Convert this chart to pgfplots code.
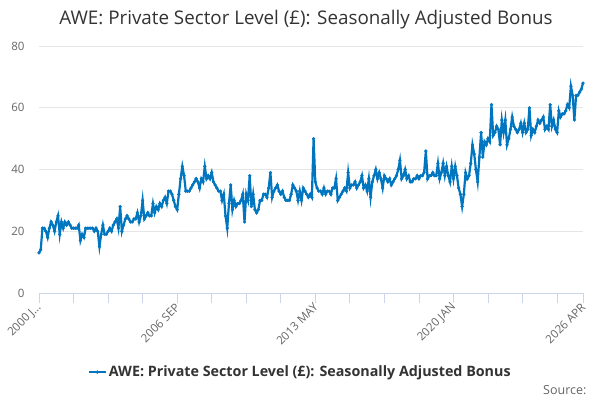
\documentclass[border=0pt]{standalone}
\usepackage{pgfplots}
\pgfplotsset{compat=1.18}
\usepackage{pgfplotstable}
\usepackage{fontspec}
\setmainfont{Open Sans}
\definecolor{series}{RGB}{0,118,192}
\definecolor{gridc}{RGB}{230,230,230}
\definecolor{axisc}{RGB}{204,214,235}
\definecolor{labc}{RGB}{102,102,102}
\definecolor{titc}{RGB}{51,51,51}
\pgfplotstableread{
m v
0 13
1 14
2 21
3 21
4 20
5 18
6 21
7 23
8 22
9 20
10 23
11 25
12 19
13 23
14 21
15 23
16 22
17 23
18 22
19 21
20 21
21 21
22 21
23 22
24 17
25 19
26 18
27 21
28 21
29 21
30 21
31 21
32 20
33 21
34 20
35 15
36 19
37 22
38 19
39 19
40 20
41 21
42 20
43 22
44 23
45 24
46 21
47 28
48 20
49 22
50 24
51 25
52 24
53 23
54 23
55 24
56 24
57 26
58 23
59 25
60 30
61 24
62 25
63 26
64 25
65 25
66 29
67 26
68 28
69 27
70 29
71 28
72 30
73 31
74 29
75 33
76 33
77 32
78 30
79 28
80 27
81 32
82 37
83 41
84 38
85 33
86 33
87 33
88 34
89 35
90 36
91 37
92 36
93 34
94 37
95 36
96 41
97 37
98 38
99 37
100 39
101 36
102 35
103 34
104 33
105 33
106 30
107 32
108 25
109 21
110 29
111 35
112 27
113 30
114 28
115 29
116 29
117 30
118 32
119 23
120 32
121 30
122 38
123 28
124 32
125 27
126 26
127 27
128 30
129 30
130 32
131 32
132 31
133 34
134 39
135 31
136 33
137 34
138 35
139 33
140 32
141 33
142 31
143 30
144 30
145 30
146 32
147 35
148 34
149 33
150 30
151 33
152 30
153 34
154 33
155 32
156 31
157 32
158 31
159 50
160 36
161 34
162 33
163 33
164 32
165 34
166 32
167 33
168 33
169 32
170 34
171 34
172 37
173 30
174 31
175 32
176 33
177 34
178 33
179 39
180 34
181 35
182 35
183 36
184 34
185 35
186 36
187 38
188 34
189 35
190 33
191 37
192 31
193 36
194 38
195 40
196 37
197 39
198 37
199 34
200 38
201 37
202 36
203 37
204 35
205 36
206 37
207 38
208 40
209 43
210 37
211 38
212 40
213 37
214 38
215 36
216 36
217 37
218 37
219 38
220 37
221 38
222 38
223 39
224 46
225 37
226 38
227 38
228 39
229 38
230 38
231 42
232 37
233 39
234 42
235 38
236 41
237 38
238 36
239 41
240 37
241 41
242 38
243 34
244 32
245 28
246 32
247 39
248 37
249 38
250 42
251 48
252 45
253 40
254 36
255 44
256 52
257 44
258 49
259 48
260 50
261 49
262 61
263 51
264 52
265 54
266 53
267 48
268 56
269 52
270 56
271 48
272 50
273 53
274 57
275 54
276 53
277 52
278 53
279 55
280 52
281 55
282 52
283 53
284 60
285 51
286 53
287 52
288 54
289 56
290 55
291 56
292 57
293 53
294 54
295 53
296 61
297 54
298 56
299 53
300 52
301 59
302 57
303 58
304 58
305 59
306 61
307 60
308 67
309 64
310 56
311 64
312 64
313 65
314 66
315 68
}\datatable
\begin{document}
\begin{tikzpicture}
\path[use as bounding box, fill=white] (0pt,0pt) rectangle (600pt,400pt);
\begin{axis}[
  at={(39pt,107pt)}, anchor=south west,
  width=544pt, height=247pt, scale only axis,
  xmin=0, xmax=315, ymin=0, ymax=80,
  clip=false,
  axis x line*=bottom, axis y line*=left,
  x axis line style={draw=axisc, line width=0.8pt, -},
  y axis line style={draw=none},
  xtick={0,80,160,240,315},
  xticklabels={2000 J…,2006 SEP,2013 MAY,2020 JAN,2026 APR},
  minor xtick={20,40,60,100,120,140,180,200,220,260,280,300},
  xtick style={draw=axisc, line width=0.8pt},
  xminorticks=true,
  major tick length=10pt, minor tick length=10pt,
  tick align=outside,
  ytick={0,20,40,60,80},
  ytick style={draw=none},
  ymajorgrids, grid style={draw=gridc, line width=0.8pt},
  xmajorgrids=false, xminorgrids=false,
  /pgf/number format/assume math mode=true,
  tick label style={font=\fontsize{11.5}{13}\selectfont, text=labc},
  yticklabel style={xshift=-1pt},
  xticklabel style={rotate=45, anchor=east, yshift=-2pt, xshift=2pt},
  legend style={at={(rel axis cs:0.48,-0.32)}, anchor=center, draw=none,
    font=\fontsize{14.3}{16}\selectfont\bfseries, text=titc, fill=none},
  legend cell align=left,
]
\addplot[color=series, line width=2.2pt, mark=*, mark size=1.5pt,
  mark options={fill=series, draw=series, line width=0.3pt}] table[x=m, y=v] {\datatable};
\addlegendentry{AWE: Private Sector Level (£): Seasonally Adjusted Bonus}
\end{axis}
\node[text=titc, font=\fontsize{18.8}{22}\selectfont] at (306pt,380pt) {AWE: Private Sector Level (£): Seasonally Adjusted Bonus};
\node[text=labc, font=\fontsize{12.5}{14}\selectfont, anchor=east] at (590pt,10pt) {Source:};
\end{tikzpicture}
\end{document}
